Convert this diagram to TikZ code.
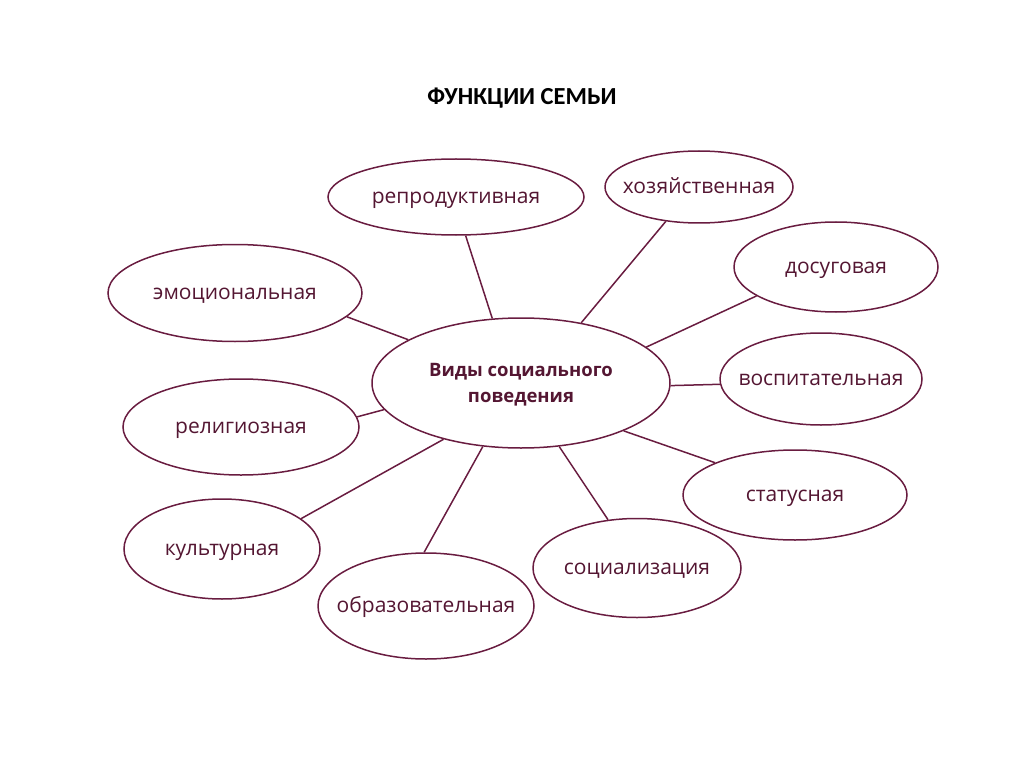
\documentclass[tikz,border=0pt]{standalone}
\usepackage{fontspec}
\setmainfont{Open Sans}
\newfontfamily\titlefont{Carlito}
\usetikzlibrary{shapes.geometric}

\tikzset{
  func/.style={ellipse,draw=cline,line width=1.5pt,inner sep=0pt,text=ctext,
    font=\fontsize{21}{25}\selectfont,text height=13pt,text depth=0pt},
  link/.style={draw=cline,line width=1.5pt}
}
\newcommand{\flabel}[1]{\makebox[0pt]{#1}}

\begin{document}
\begin{tikzpicture}[x=1pt,y=-1pt]
\definecolor{cline}{RGB}{105,28,64}
\definecolor{ctext}{RGB}{84,22,50}
\useasboundingbox (0,0) rectangle (1024,767);
\node[font=\titlefont\bfseries\fontsize{24.5}{28}\selectfont] (title) at (522,98) {ФУНКЦИИ СЕМЬИ};
% center
\node[func,minimum width=298pt,minimum height=130pt,align=center,text height=,text depth=-5pt,
  font=\bfseries\fontsize{18.5}{26}\selectfont] (vid) at (521,383) {Виды социального\\поведения};
% outer functions
\node[func,minimum width=256pt,minimum height=76pt] (rep) at (456,197) {\flabel{репродуктивная}};
\node[func,minimum width=188pt,minimum height=72pt] (hoz) at (699,187) {\flabel{хозяйственная}};
\node[func,minimum width=204pt,minimum height=90pt] (dos) at (836,267) {\flabel{досуговая}};
\node[func,minimum width=254pt,minimum height=97pt] (emo) at (235,293) {\flabel{эмоциональная}};
\node[func,minimum width=202pt,minimum height=92pt] (vos) at (821,379) {\flabel{воспитательная}};
\node[func,minimum width=236pt,minimum height=96pt] (rel) at (241,427) {\flabel{религиозная}};
\node[func,minimum width=224pt,minimum height=90pt] (sta) at (795,495) {\flabel{статусная}};
\node[func,minimum width=196pt,minimum height=100pt] (kul) at (222,549) {\flabel{культурная}};
\node[func,minimum width=208pt,minimum height=99pt] (soc) at (637,568) {\flabel{социализация}};
\node[func,minimum width=216pt,minimum height=106pt] (obr) at (426,606) {\flabel{образовательная}};
% links
\draw[link] (vid.114) -- (rep.-76);
\draw[link] (vid.45) -- (hoz.-134);
\draw[link] (vid.16) -- (dos.-160);
\draw[link] (vid.159) -- (emo.-12);
\draw[link] (vid.-1) -- (vos.183);
\draw[link] (vid.191) -- (rel.5);
\draw[link] (vid.-25) -- (sta.158);
\draw[link] (vid.-144) -- (kul.21);
\draw[link] (vid.-121) -- (obr.92);
\draw[link] (vid.-59) -- (soc.121);
\end{tikzpicture}
\end{document}
